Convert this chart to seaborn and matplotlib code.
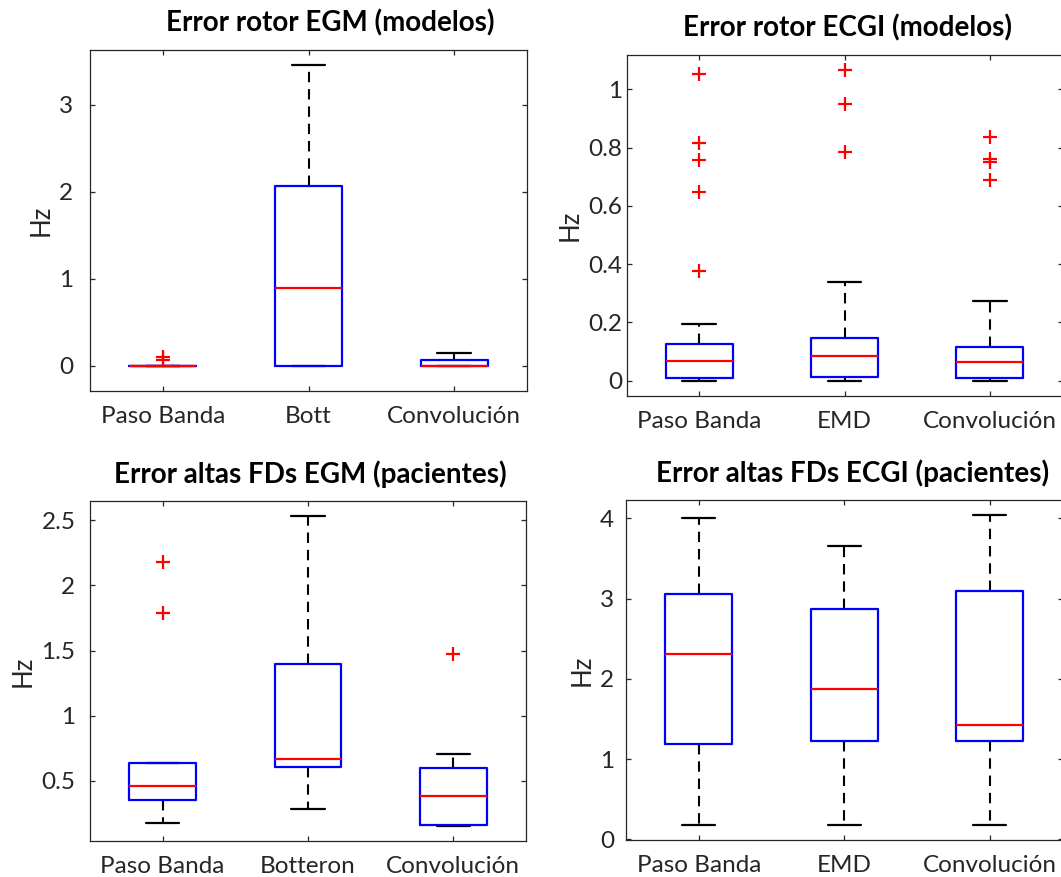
import matplotlib
matplotlib.use("Agg")
import matplotlib.pyplot as plt
from matplotlib.ticker import FuncFormatter
import pandas as pd
import seaborn as sns

# ---- Error rotor EGM (modelos): five-number summaries per method ----
rotor_egm_methods = ["Paso Banda", "Bott", "Convolución"]
rotor_egm_whislo = [0.0, 0.0, 0.0]
rotor_egm_q1 = [0.0, 0.0, 0.0]
rotor_egm_median = [0.0, 0.90, 0.0]
rotor_egm_q3 = [0.0, 2.065, 0.065]
rotor_egm_whishi = [0.0, 3.45, 0.153]
rotor_egm_outliers = [[0.065, 0.105], [], []]

# ---- Error rotor ECGI (modelos) ----
rotor_ecgi_methods = ["Paso Banda", "EMD", "Convolución"]
rotor_ecgi_whislo = [0.0, 0.0, 0.0]
rotor_ecgi_q1 = [0.008, 0.013, 0.010]
rotor_ecgi_median = [0.066, 0.085, 0.064]
rotor_ecgi_q3 = [0.127, 0.146, 0.115]
rotor_ecgi_whishi = [0.193, 0.338, 0.273]
rotor_ecgi_outliers = [[1.053, 0.817, 0.757, 0.648, 0.378],
                       [1.065, 0.950, 0.786],
                       [0.838, 0.760, 0.752, 0.690]]

# ---- Error altas FDs EGM (pacientes) ----
fd_egm_methods = ["Paso Banda", "Botteron", "Convolución"]
fd_egm_whislo = [0.178, 0.288, 0.153]
fd_egm_q1 = [0.352, 0.605, 0.163]
fd_egm_median = [0.462, 0.669, 0.388]
fd_egm_q3 = [0.641, 1.396, 0.598]
fd_egm_whishi = [0.641, 2.532, 0.705]
fd_egm_outliers = [[2.179, 1.790], [], [1.477]]

# ---- Error altas FDs ECGI (pacientes) ----
fd_ecgi_methods = ["Paso Banda", "EMD", "Convolución"]
fd_ecgi_whislo = [0.178, 0.178, 0.178]
fd_ecgi_q1 = [1.188, 1.225, 1.225]
fd_ecgi_median = [2.305, 1.877, 1.428]
fd_ecgi_q3 = [3.057, 2.866, 3.094]
fd_ecgi_whishi = [4.0, 3.659, 4.037]
fd_ecgi_outliers = [[], [], []]

titles = ["Error rotor EGM (modelos)", "Error rotor ECGI (modelos)",
          "Error altas FDs EGM (pacientes)", "Error altas FDs ECGI (pacientes)"]
y_label = "Hz"

BLUE = "#0000FF"
RED = "#FF0000"
AX_GREY = "#262626"

sns.set_theme(style="white")
plt.rcParams["font.family"] = ["Lato", "DejaVu Sans"]


def summary_table(methods, lo, q1, med, q3, hi):
    rows = []
    for m, *vals in zip(methods, lo, q1, med, q3, hi):
        rows += [(m, v) for v in vals]
    return pd.DataFrame(rows, columns=["método", "valor"])


def outlier_table(methods, outliers):
    rows = [(m, v) for m, vals in zip(methods, outliers) for v in vals]
    return pd.DataFrame(rows, columns=["método", "valor"])


panels = [
    dict(methods=rotor_egm_methods, lo=rotor_egm_whislo, q1=rotor_egm_q1,
         med=rotor_egm_median, q3=rotor_egm_q3, hi=rotor_egm_whishi,
         out=rotor_egm_outliers,
         rect=[90, 50, 527, 391], ylim=(-0.288, 3.627), yticks=[0, 1, 2, 3],
         ypad=12, title_x=0.549),
    dict(methods=rotor_ecgi_methods, lo=rotor_ecgi_whislo, q1=rotor_ecgi_q1,
         med=rotor_ecgi_median, q3=rotor_ecgi_q3, hi=rotor_ecgi_whishi,
         out=rotor_ecgi_outliers,
         rect=[626.5, 55, 1062.5, 395.7], ylim=(-0.0516, 1.118),
         yticks=[0, 0.2, 0.4, 0.6, 0.8, 1.0], ypad=3, title_x=0.508),
    dict(methods=fd_egm_methods, lo=fd_egm_whislo, q1=fd_egm_q1,
         med=fd_egm_median, q3=fd_egm_q3, hi=fd_egm_whishi,
         out=fd_egm_outliers,
         rect=[90, 501, 526, 841], ylim=(0.0396, 2.648),
         yticks=[0.5, 1.0, 1.5, 2.0, 2.5], ypad=10.5, title_x=0.505),
    dict(methods=fd_ecgi_methods, lo=fd_ecgi_whislo, q1=fd_ecgi_q1,
         med=fd_ecgi_median, q3=fd_ecgi_q3, hi=fd_ecgi_whishi,
         out=fd_ecgi_outliers,
         rect=[626, 500, 1062.5, 840], ylim=(-0.0083, 4.228),
         yticks=[0, 1, 2, 3, 4], ypad=8.5, title_x=0.518),
]

W, H = 1061, 877
fig = plt.figure(figsize=(W / 100, H / 100), dpi=100)
fig.patch.set_facecolor("white")

dash = (0, (5, 3.3))
for p, title in zip(panels, titles):
    x0, y0, x1, y1 = p["rect"]
    ax = fig.add_axes([x0 / W, 1 - y1 / H, (x1 - x0) / W, (y1 - y0) / H])

    box_df = summary_table(p["methods"], p["lo"], p["q1"], p["med"], p["q3"], p["hi"])
    # boxes and medians sit above whiskers and caps
    sns.boxplot(data=box_df, x="método", y="valor", order=p["methods"], ax=ax,
                whis=(0, 100), width=0.46, fill=False, color=BLUE,
                linewidth=1.6, showfliers=False,
                boxprops=dict(color=BLUE, linewidth=1.6, zorder=2.5),
                medianprops=dict(color=RED, linewidth=1.6, zorder=2.6),
                whiskerprops=dict(color="black", linestyle=dash, linewidth=1.5,
                                  zorder=2),
                capprops=dict(color="black", linewidth=1.6, zorder=2))

    out_df = outlier_table(p["methods"], p["out"])
    if len(out_df):
        sns.stripplot(data=out_df, x="método", y="valor", order=p["methods"],
                      ax=ax, jitter=False, marker="+", color=RED, size=10,
                      linewidth=1.6, zorder=4)

    ax.set_xlim(-0.5, 2.5)
    ax.set_ylim(*p["ylim"])
    ax.set_yticks(p["yticks"])
    ax.yaxis.set_major_formatter(FuncFormatter(lambda v, _: f"{v:g}"))
    ax.set_xticks(range(len(p["methods"])))
    ax.set_xticklabels(p["methods"])
    ax.set_xlabel("")
    ax.set_ylabel(y_label, fontsize=18.5, color=AX_GREY, labelpad=4)
    ax.set_title(title, fontsize=20, fontweight="bold", color="black",
                 pad=13, x=p["title_x"])

    ax.tick_params(axis="both", direction="in", length=3.5, width=0.9,
                   colors=AX_GREY, labelsize=17.5, top=True, right=True,
                   bottom=True, left=True)
    ax.tick_params(axis="x", pad=11)
    ax.tick_params(axis="y", pad=p["ypad"])
    for side in ["left", "right", "top", "bottom"]:
        ax.spines[side].set_visible(True)
        ax.spines[side].set_color(AX_GREY)
        ax.spines[side].set_linewidth(0.9)
    ax.grid(False)

fig.savefig("out.png", dpi=100, facecolor="white")
